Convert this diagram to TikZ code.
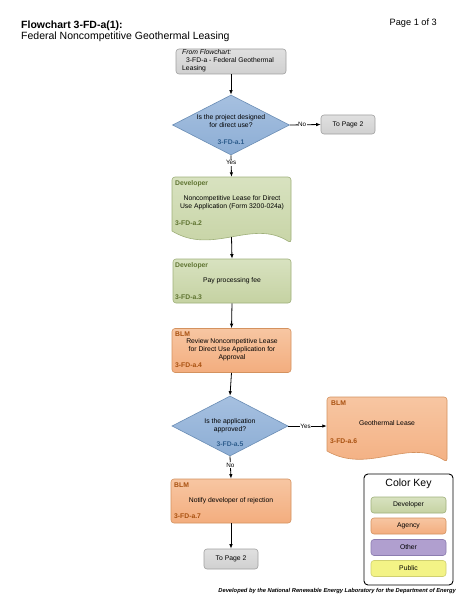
\documentclass[tikz,border=0pt]{standalone}
\usepackage{fontspec}
\setmainfont{Liberation Sans}
\usetikzlibrary{arrows.meta,shapes.geometric}
\definecolor{devF}{HTML}{C5D2A2}
\definecolor{devL}{HTML}{D8E2C0}
\definecolor{devD}{HTML}{9FB07A}
\definecolor{devT}{HTML}{5E7330}
\definecolor{agF}{HTML}{F3AD7E}
\definecolor{agL}{HTML}{F7C6A2}
\definecolor{agD}{HTML}{D4925F}
\definecolor{agT}{HTML}{A8500F}
\definecolor{decF}{HTML}{8DAED5}
\definecolor{decL}{HTML}{A6C0E0}
\definecolor{decD}{HTML}{6A8DB5}
\definecolor{decT}{HTML}{2F5E8E}
\definecolor{gryF}{HTML}{D0D0D0}
\definecolor{gryL}{HTML}{E0E0E0}
\definecolor{gryD}{HTML}{A0A0A0}
\definecolor{othF}{HTML}{B09FCF}
\definecolor{othD}{HTML}{8C7DB0}
\definecolor{pubF}{HTML}{F3F386}
\definecolor{pubD}{HTML}{D0D070}
\begin{document}
\begin{tikzpicture}[x=1pt,y=-1pt,
  txt/.style={font=\fontsize{6.8}{8}\selectfont, align=center, inner sep=0pt},
  idlbl/.style={font=\bfseries\fontsize{6.8}{8}\selectfont, inner sep=0pt, anchor=west},
  devbox/.style={draw=devD, top color=devL, bottom color=devF, rounded corners=3pt, line width=0.6pt, inner sep=0pt},
  agbox/.style={draw=agD, top color=agL, bottom color=agF, rounded corners=3pt, line width=0.6pt, inner sep=0pt},
  grybox/.style={draw=gryD, top color=gryL, bottom color=gryF, rounded corners=3pt, line width=0.6pt, inner sep=0pt},
  decbox/.style={diamond, draw=decD, top color=decL, bottom color=decF, line width=0.6pt, inner sep=0pt},
  keybox/.style={rounded corners=3pt, line width=0.6pt, inner sep=0pt, minimum width=75pt, minimum height=16pt, font=\fontsize{6.8}{8}\selectfont},
  conn/.style={line width=0.8pt, -{Latex[length=4.5pt,width=3.5pt]}},
  clbl/.style={font=\fontsize{6.3}{7}\selectfont, fill=white, inner sep=0.6pt}
]
\useasboundingbox (0,0) rectangle (463,599);
\fill[white] (0,0) rectangle (463,599);

% titles
\node[anchor=base west, inner sep=0pt, font=\bfseries\fontsize{10.5}{12}\selectfont] (t1) at (21,28.5) {Flowchart 3-FD-a(1):};
\node[anchor=base west, inner sep=0pt, font=\fontsize{10.5}{12}\selectfont] (t2) at (21,40) {Federal Noncompetitive Geothermal Leasing};
\node[anchor=base east, inner sep=0pt, font=\fontsize{9.2}{11}\selectfont] (pg) at (437,26) {Page 1 of 3};

% from flowchart
\node[grybox, minimum width=110pt, minimum height=25pt] (from) at (231,61.5) {};
\node[txt, align=left, anchor=north west] (fromt) at (182,49.5) {\itshape From Flowchart:\\\hspace*{4pt}3-FD-a - Federal Geothermal\\Leasing};

% decision 1
\node[decbox, minimum width=117pt, minimum height=60pt] (d1) at (231,125) {};
\node[txt] (d1t) at (231,121.5) {Is the project designed\\for direct use?};
\node[idlbl, text=decT, anchor=center] (d1i) at (231,142) {3-FD-a.1};

% to page 2 (right)
\node[grybox, minimum width=54pt, minimum height=19pt] (tp1) at (348,124.5) {};
\node[txt] (tp1t) at (348,124.5) {To Page 2};

% box 2 document
\node[inner sep=0pt, minimum width=119pt, minimum height=54pt] (b2) at (231.5,204) {};
\draw[draw=devD, top color=devL, bottom color=devF, line width=0.6pt]
  (172,231) [rounded corners=3pt] -- (172,177) -- (291,177) -- (291,243) [sharp corners]
  .. controls (252,218) and (213,256) .. (172,231) -- cycle;
\coordinate (b2o) at (231.5,237);
\node[idlbl, text=devT] (b2r) at (175,184) {Developer};
\node[txt] (b2t) at (232,203) {Noncompetitive Lease for Direct\\Use Application (Form 3200-024a)};
\node[idlbl, text=devT] (b2i) at (175,223) {3-FD-a.2};

% box 3
\node[devbox, minimum width=118pt, minimum height=44pt] (b3) at (232,281) {};
\node[idlbl, text=devT] (b3r) at (175,265.5) {Developer};
\node[txt] (b3t) at (232,281) {Pay processing fee};
\node[idlbl, text=devT] (b3i) at (175,297) {3-FD-a.3};

% box 4
\node[agbox, minimum width=119pt, minimum height=44pt] (b4) at (231.5,350.5) {};
\node[idlbl, text=agT] (b4r) at (175,334) {BLM};
\node[txt] (b4t) at (232,350) {Review Noncompetitive Lease\\for Direct Use Application for\\Approval};
\node[idlbl, text=agT] (b4i) at (175,365.5) {3-FD-a.4};

% decision 2
\node[decbox, minimum width=116pt, minimum height=60pt] (d2) at (230,426) {};
\node[txt] (d2t) at (230,425.5) {Is the application\\approved?};
\node[idlbl, text=decT, anchor=center] (d2i) at (230,444.5) {3-FD-a.5};

% box 6 document
\node[inner sep=0pt, minimum width=120pt, minimum height=54pt] (b6) at (387,424) {};
\draw[draw=agD, top color=agL, bottom color=agF, line width=0.6pt]
  (327,451) [rounded corners=3pt] -- (327,397) -- (447,397) -- (447,462) [sharp corners]
  .. controls (408,437) and (369,475) .. (327,451) -- cycle;
\node[idlbl, text=agT] (b6r) at (331,403.5) {BLM};
\node[txt] (b6t) at (387,423) {Geothermal Lease};
\node[idlbl, text=agT] (b6i) at (330,441.5) {3-FD-a.6};

% box 7
\node[agbox, minimum width=120pt, minimum height=44pt] (b7) at (231,501) {};
\node[idlbl, text=agT] (b7r) at (174,485.5) {BLM};
\node[txt] (b7t) at (231,501) {Notify developer of rejection};
\node[idlbl, text=agT] (b7i) at (174,516.5) {3-FD-a.7};

% to page 2 (bottom)
\node[grybox, minimum width=54pt, minimum height=20pt] (tp2) at (231,559) {};
\node[txt] (tp2t) at (231,559) {To Page 2};

% connectors
\draw[conn] (from.south) -- (d1.north);
\draw[conn] (d1.east) -- node[clbl, pos=0.4] (lno1) {No} (tp1.west);
\draw[conn] (d1.south) -- node[clbl, pos=0.35] (lyes1) {Yes} (b2.north);
\draw[conn] (b2o) -- (b3.north);
\draw[conn] (b3.south) -- (b4.north);
\draw[conn] (b4.south) -- (d2.north);
\draw[conn] (d2.east) -- node[clbl, pos=0.45] (lyes2) {Yes} (d2.east -| b6.west);
\draw[conn] (d2.south) -- node[clbl, pos=0.4] (lno2) {No} (b7.north);
\draw[conn] (b7.south) -- (tp2.north);

% color key
\node[draw=black, rounded corners=4pt, line width=0.9pt, minimum width=89pt, minimum height=111pt, inner sep=0pt] (ck) at (408.5,529.5) {};
\node[inner sep=0pt, font=\fontsize{10.5}{12}\selectfont] (ckt) at (408.5,484) {Color Key};
\node[keybox, draw=devD, top color=devL, bottom color=devF] (k1) at (408.5,505) {Developer};
\node[keybox, draw=agD, top color=agL, bottom color=agF] (k2) at (408.5,526) {Agency};
\node[keybox, draw=othD, fill=othF] (k3) at (408.5,547.5) {Other};
\node[keybox, draw=pubD, fill=pubF] (k4) at (408.5,568.5) {Public};

% footer
\node[anchor=east, inner sep=0pt, font=\bfseries\itshape\fontsize{5.75}{7}\selectfont] (foot) at (456,591) {Developed by the National Renewable Energy Laboratory for the Department of Energy};
\end{tikzpicture}
\end{document}
